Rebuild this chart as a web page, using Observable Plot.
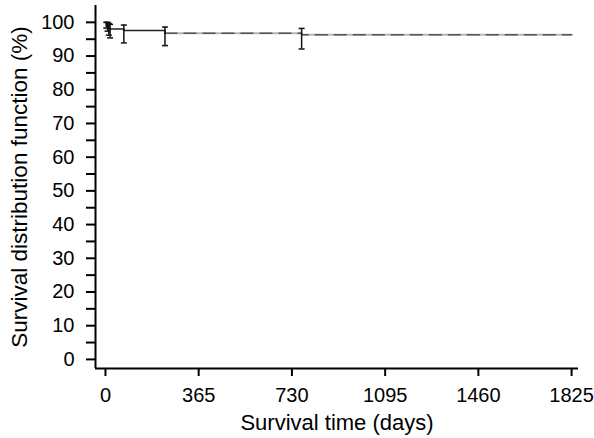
<!DOCTYPE html>
<html>
<head>
<meta charset="utf-8">
<script src="https://cdn.jsdelivr.net/npm/d3@7"></script>
<script src="https://cdn.jsdelivr.net/npm/@observablehq/plot@0.6"></script>
<style>
  html, body { margin: 0; padding: 0; background: #fff; }
  #chart svg { display: block; }
</style>
</head>
<body>
<div id="chart"></div>
<script>
// Kaplan-Meier step curve (days, survival %)
const stepDays = [0, 3, 8, 13, 18, 72, 233, 768, 1825];
const stepSurvival = [100, 99.5, 99.0, 98.5, 98.0, 97.6, 96.8, 96.3, 96.3];

// Error bars at event times
const barDays = [3, 8, 13, 18, 72, 233, 768];
const barValue = [99.5, 99.0, 98.5, 98.0, 97.6, 96.8, 96.3];
const barLow = [98.3, 97.4, 96.2, 95.4, 93.9, 93.1, 92.1];
const barHigh = [100, 100, 99.7, 99.4, 99.2, 98.6, 98.2];

const xTicks = [0, 365, 730, 1095, 1460, 1825];
const yTicks = d3.range(0, 101, 5);

const curve = stepDays.map((t, i) => ({t, s: stepSurvival[i]}));
const bars = barDays.map((t, i) => ({t, v: barValue[i], lo: barLow[i], hi: barHigh[i]}));

const capSymbol = {
  draw(ctx, size) {
    const r = Math.sqrt(size / Math.PI);
    ctx.moveTo(-r, 0);
    ctx.lineTo(r, 0);
  }
};

const xDomain = [-39, 1852];
const yDomain = [-2.7, 105];
const solidEnd = 233;

const chart = Plot.plot({
  width: 594,
  height: 438,
  marginLeft: 95,
  marginRight: 16,
  marginTop: 5,
  marginBottom: 70,
  style: {fontFamily: "'Liberation Sans', Arial, sans-serif", fontSize: "20px", color: "#000", background: "#fff"},
  x: {domain: xDomain},
  y: {domain: yDomain},
  marks: [
    Plot.axisY({
      ticks: yTicks,
      tickSize: 9,
      tickPadding: 12,
      strokeWidth: 2,
      tickFormat: d => d % 10 === 0 ? String(d) : "",
      fontSize: 20,
      label: null
    }),
    Plot.axisY({
      ticks: [],
      label: "Survival distribution function (%)",
      labelAnchor: "center",
      labelArrow: "none",
      labelOffset: 84,
      fontSize: 22.5
    }),
    Plot.axisX({
      ticks: xTicks,
      tickSize: 8,
      tickPadding: 11,
      strokeWidth: 2,
      tickFormat: d => String(d),
      fontSize: 20,
      label: null
    }),
    Plot.axisX({
      ticks: [],
      label: "Survival time (days)",
      labelAnchor: "center",
      labelArrow: "none",
      labelOffset: 61,
      fontSize: 22
    }),
    Plot.ruleX([xDomain[0]], {stroke: "#000", strokeWidth: 2}),
    Plot.ruleY([yDomain[0]], {stroke: "#000", strokeWidth: 2}),
    Plot.line(curve.filter(d => d.t >= solidEnd), {x: "t", y: "s", curve: "step-after", stroke: "#b8b8b8", strokeWidth: 2}),
    Plot.line(curve.filter(d => d.t >= solidEnd), {x: "t", y: "s", curve: "step-after", stroke: "#555", strokeWidth: 1.5, strokeDasharray: "12,7"}),
    Plot.line(curve.filter(d => d.t <= solidEnd), {x: "t", y: "s", curve: "step-after", stroke: "#222", strokeWidth: 1.5}),
    Plot.ruleX(bars, {x: "t", y1: "lo", y2: "hi", stroke: "#111", strokeWidth: 1.5}),
    Plot.dot(bars, {x: "t", y: "lo", symbol: capSymbol, r: 3, stroke: "#111", strokeWidth: 1.5, fill: "none"}),
    Plot.dot(bars, {x: "t", y: "hi", symbol: capSymbol, r: 3, stroke: "#111", strokeWidth: 1.5, fill: "none"})
  ]
});

document.getElementById("chart").appendChild(chart);
</script>
</body>
</html>
